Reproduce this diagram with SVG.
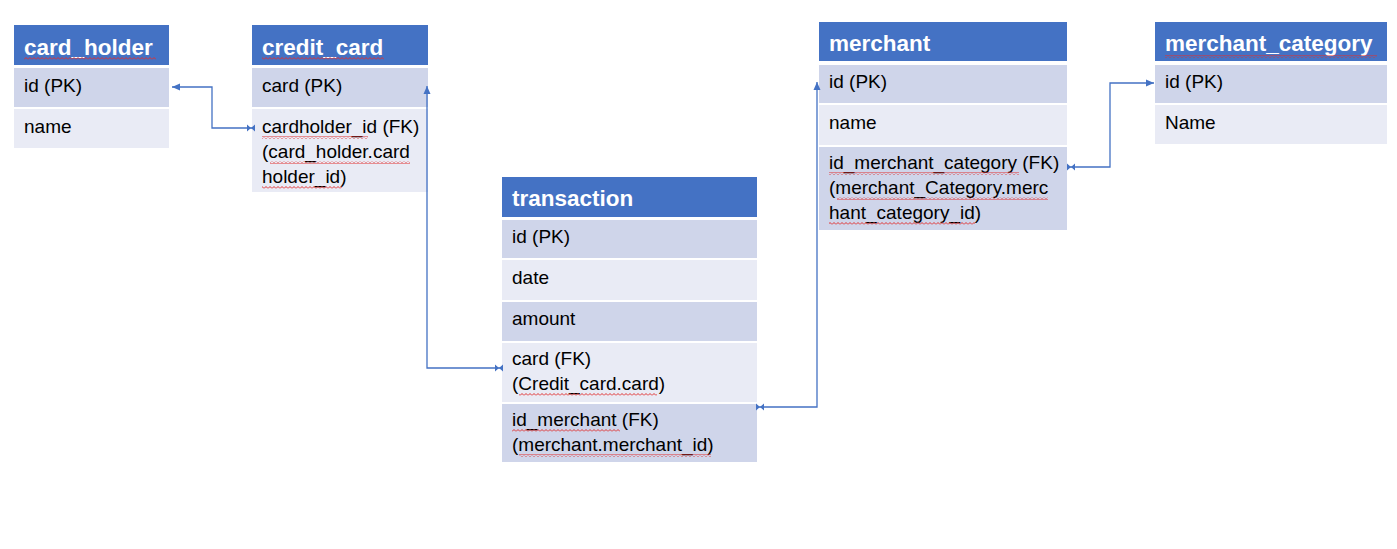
<svg xmlns="http://www.w3.org/2000/svg" width="1397" height="549" viewBox="0 0 1397 549">
<style>
.hd{fill:#4472C4}
.r1{fill:#CFD5EA}
.r2{fill:#E9EBF5}
.ht{font-family:"Liberation Sans",Arial,sans-serif;font-weight:bold;font-size:22.5px;fill:#fff}
.t{font-family:"Liberation Sans",Arial,sans-serif;font-size:19px;fill:#000}
.sq{fill:url(#sq)}
.cn{fill:none;stroke:#4472C4;stroke-width:1.3;marker-start:url(#arr);marker-end:url(#bow)}
</style>
<defs>
<pattern id="sq" patternUnits="userSpaceOnUse" width="4" height="3">
<path d="M0,2.5 L2,0.5 L4,2.5" fill="none" stroke="#E03030" stroke-width="1"/>
</pattern>
<marker id="arr" markerUnits="userSpaceOnUse" markerWidth="9" markerHeight="8" refX="8" refY="4" orient="auto-start-reverse">
<path d="M0,0.5 L8,4 L0,7.5 z" fill="#4472C4"/>
</marker>
<marker id="bow" markerUnits="userSpaceOnUse" markerWidth="9" markerHeight="8" refX="6" refY="4" orient="auto">
<path d="M0,0.5 L4,4 L0,7.5 z M8,0.5 L4,4 L8,7.5 z" fill="#4472C4"/>
</marker>
</defs>
<rect width="1397" height="549" fill="#fff"/>

<g id="card_holder">
<rect class="hd" x="14" y="25" width="155" height="40"/>
<rect class="r1" x="14" y="68" width="155" height="39"/>
<rect class="r2" x="14" y="109" width="155" height="39"/>
<text class="ht" x="24" y="55">card_holder</text>
<rect class="sq" x="24" y="57" width="132" height="3"/>
<text class="t" x="24" y="92">id (PK)</text>
<text class="t" x="24" y="133">name</text>
</g>

<g id="credit_card">
<rect class="hd" x="252" y="25" width="176" height="40"/>
<rect class="r1" x="252" y="68" width="176" height="39"/>
<rect class="r2" x="252" y="109" width="176" height="83"/>
<text class="ht" x="262" y="55">credit_card</text>
<rect class="sq" x="262" y="57" width="122" height="3"/>
<text class="t" x="262" y="92">card (PK)</text>
<text class="t" x="262" y="133">cardholder_id (FK)</text>
<rect class="sq" x="262" y="136" width="106" height="3"/>
<text class="t" x="262" y="158">(card_holder.card</text>
<rect class="sq" x="270" y="161" width="140" height="3"/>
<text class="t" x="262" y="183">holder_id)</text>
<rect class="sq" x="262" y="186" width="80" height="3"/>
</g>

<g id="transaction">
<rect class="hd" x="502" y="177" width="255" height="40"/>
<rect class="r1" x="502" y="220" width="255" height="38"/>
<rect class="r2" x="502" y="260" width="255" height="40"/>
<rect class="r1" x="502" y="302" width="255" height="39"/>
<rect class="r2" x="502" y="343" width="255" height="59"/>
<rect class="r1" x="502" y="404" width="255" height="58"/>
<text class="ht" x="512" y="206">transaction</text>
<text class="t" x="512" y="243">id (PK)</text>
<text class="t" x="512" y="284">date</text>
<text class="t" x="512" y="325">amount</text>
<text class="t" x="512" y="365">card (FK)</text>
<text class="t" x="512" y="390">(Credit_card.card)</text>
<rect class="sq" x="519" y="393" width="138" height="3"/>
<text class="t" x="512" y="426">id_merchant (FK)</text>
<rect class="sq" x="512" y="429" width="108" height="3"/>
<text class="t" x="512" y="451">(merchant.merchant_id)</text>
<rect class="sq" x="519" y="454" width="192" height="3"/>
</g>

<g id="merchant">
<rect class="hd" x="819" y="22" width="248" height="39"/>
<rect class="r1" x="819" y="65" width="248" height="38"/>
<rect class="r2" x="819" y="105" width="248" height="40"/>
<rect class="r1" x="819" y="147" width="248" height="83"/>
<text class="ht" x="829" y="51">merchant</text>
<text class="t" x="829" y="88">id (PK)</text>
<text class="t" x="829" y="129">name</text>
<text class="t" x="829" y="169">id_merchant_category (FK)</text>
<rect class="sq" x="829" y="172" width="190" height="3"/>
<text class="t" x="829" y="194">(merchant_Category.merc</text>
<rect class="sq" x="837" y="197" width="211" height="3"/>
<text class="t" x="829" y="219">hant_category_id)</text>
<rect class="sq" x="829" y="222" width="146" height="3"/>
</g>

<g id="merchant_category">
<rect class="hd" x="1155" y="22" width="232" height="39"/>
<rect class="r1" x="1155" y="65" width="232" height="38"/>
<rect class="r2" x="1155" y="105" width="232" height="39"/>
<text class="ht" x="1165" y="51">merchant_category</text>
<rect class="sq" x="1165" y="55" width="212" height="3"/>
<text class="t" x="1165" y="88">id (PK)</text>
<text class="t" x="1165" y="129">Name</text>
</g>

<g id="connectors">
<path class="cn" d="M172,87 H212 V128 H253"/>
<path class="cn" d="M427,86 V368 H501"/>
<path class="cn" d="M817,82 V407 H758"/>
<path class="cn" d="M1154,83 H1110 V167 H1069"/>
</g>
</svg>
